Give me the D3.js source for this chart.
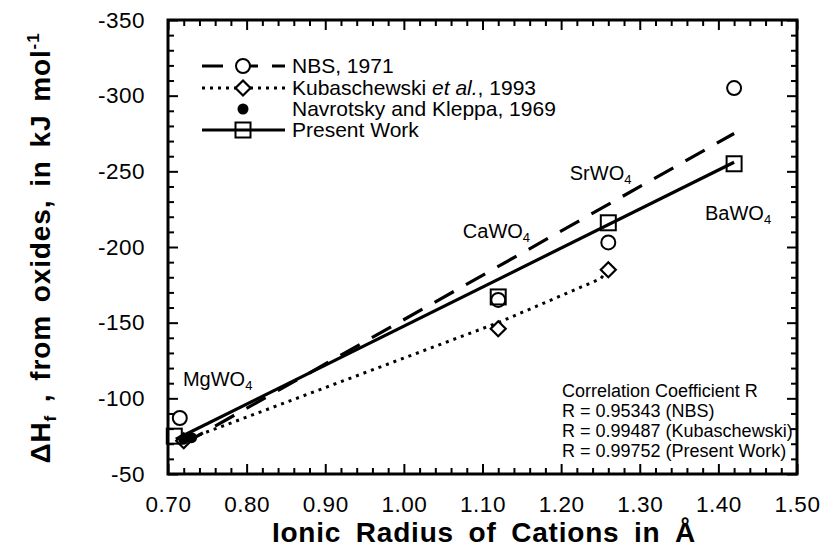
<!DOCTYPE html>
<html><head><meta charset="utf-8">
<script src="https://cdn.jsdelivr.net/npm/d3@7"></script>
<style>body{margin:0;background:#fff}svg{display:block}text{font-family:"Liberation Sans",Arial,Helvetica,sans-serif;fill:#000}</style>
</head><body><svg id="c" width="826" height="553"></svg>
<script>
// ---- data ----
const xTicks = [0.70,0.80,0.90,1.00,1.10,1.20,1.30,1.40,1.50];
const yTicks = [-350,-300,-250,-200,-150,-100,-50];
const nbsX = [0.715,1.12,1.26,1.42];
const nbsY = [-87,-165,-203,-305];
const kubX = [0.72,1.12,1.26];
const kubY = [-72,-146,-185];
const navX = [0.72,0.73];
const navY = [-73,-74];
const presX = [0.708,1.12,1.26,1.42];
const presY = [-75,-167,-216,-255];
// fitted / connecting lines
const nbsLineX = [0.72,1.42];
const nbsLineY = [-70,-275];
const kubLineX = [0.72,1.12,1.25,1.26];
const kubLineY = [-72,-150,-179,-185];
const presLineX = [0.71,1.42];
const presLineY = [-73,-256];
const compounds = ["MgWO","CaWO","SrWO","BaWO"];
const compX = [0.719,1.075,1.211,1.383];   // label anchor (data coords)
const compY = [-108,-206,-244,-218];
const legendLabels = ["NBS, 1971","Kubaschewski ","Navrotsky and Kleppa, 1969","Present Work"];
const corrLines = ["Correlation Coefficient R","R = 0.95343 (NBS)","R = 0.99487 (Kubaschewski)","R = 0.99752 (Present Work)"];

// ---- layout ----
const svg = d3.select("#c");
const L=168,R=797,T=20,B=474;
const x = d3.scaleLinear().domain([0.70,1.50]).range([L,R]);
const y = d3.scaleLinear().domain([-50,-350]).range([B,T]);
const zip=(a,b)=>a.map((v,i)=>[v,b[i]]);
const line = d3.line().x(d=>x(d[0])).y(d=>y(d[1]));

const xMinor = d3.range(0.70,1.5001,0.02).filter(v=>Math.abs(Math.round(v*10)-v*10)>1e-6);
const yMinor = d3.range(-350,-49,10).filter(v=>v%50!==0);

function ax(gen, tr, ticks, size, labels){
  const g = svg.append("g").attr("transform",tr).call(gen.tickValues(ticks).tickSize(size).tickSizeOuter(0));
  g.select(".domain").remove();
  g.selectAll(".tick line").attr("stroke","#000").attr("stroke-width",2);
  if(!labels) g.selectAll(".tick text").remove();
  else g.selectAll(".tick text").style("font-size","22.5px").style("letter-spacing","0.5px").style("font-family",'"Liberation Sans",Arial,sans-serif');
  return g;
}
ax(d3.axisBottom(x).tickFormat(d3.format(".2f")).tickPadding(22),`translate(0,${B})`,xTicks,-10,true);
ax(d3.axisBottom(x),`translate(0,${B})`,xMinor,-6,false);
ax(d3.axisTop(x),`translate(0,${T})`,xTicks,-10,false);
ax(d3.axisTop(x),`translate(0,${T})`,xMinor,-6,false);
ax(d3.axisLeft(y).tickFormat(d=>String(d)).tickPadding(23),`translate(${L},0)`,yTicks,-10,true);
ax(d3.axisLeft(y),`translate(${L},0)`,yMinor,-6,false);
ax(d3.axisRight(y),`translate(${R},0)`,yTicks,-10,false);
ax(d3.axisRight(y),`translate(${R},0)`,yMinor,-6,false);

svg.append("rect").attr("x",L).attr("y",T).attr("width",R-L).attr("height",B-T)
  .attr("fill","none").attr("stroke","#000").attr("stroke-width",3);

// lines
svg.append("path").datum(zip(nbsLineX,nbsLineY)).attr("d",line).attr("fill","none")
  .attr("stroke","#000").attr("stroke-width",3.2).attr("stroke-dasharray","22,14");
svg.append("path").datum(zip(kubLineX,kubLineY)).attr("d",line).attr("fill","none")
  .attr("stroke","#000").attr("stroke-width",3).attr("stroke-dasharray","3,5");
svg.append("path").datum(zip(presLineX,presLineY)).attr("d",line).attr("fill","none")
  .attr("stroke","#000").attr("stroke-width",3.2);

// markers
function circ(g,cx,cy){g.append("circle").attr("cx",cx).attr("cy",cy).attr("r",7).attr("fill","#fff").attr("stroke","#000").attr("stroke-width",2);}
function sq(g,cx,cy){g.append("rect").attr("x",cx-7.5).attr("y",cy-7.5).attr("width",15).attr("height",15).attr("fill","none").attr("stroke","#000").attr("stroke-width",2);}
function dia(g,cx,cy){g.append("path").attr("d",`M${cx},${cy-7.5}L${cx+7.5},${cy}L${cx},${cy+7.5}L${cx-7.5},${cy}Z`).attr("fill","#fff").attr("stroke","#000").attr("stroke-width",2.2);}
function dot(g,cx,cy){g.append("circle").attr("cx",cx).attr("cy",cy).attr("r",5.5).attr("fill","#000");}
const mg = svg.append("g");
nbsX.forEach((v,i)=>circ(mg,x(v),y(nbsY[i])));
kubX.forEach((v,i)=>dia(mg,x(v),y(kubY[i])));
presX.forEach((v,i)=>sq(mg,x(v),y(presY[i])));
navX.forEach((v,i)=>dot(mg,x(v),y(navY[i])));

// compound labels
compounds.forEach((c,i)=>{
  const t = svg.append("text").attr("x",x(compX[i])).attr("y",y(compY[i]))
    .style("font-size","20px");
  t.append("tspan").text(c);
  t.append("tspan").attr("dy",4).style("font-size","13px").text("4");
});

// legend
const lg = svg.append("g");
const lx0=202,lx1=285,lsx=243,tx=292, ly=[66,88,109,130];
lg.append("line").attr("x1",lx0).attr("x2",lx1).attr("y1",ly[0]).attr("y2",ly[0]).attr("stroke","#000").attr("stroke-width",3).attr("stroke-dasharray","21,14");
circ(lg,lsx,ly[0]);
lg.append("line").attr("x1",lx0).attr("x2",lx1).attr("y1",ly[1]).attr("y2",ly[1]).attr("stroke","#000").attr("stroke-width",3).attr("stroke-dasharray","3,5");
dia(lg,lsx,ly[1]);
dot(lg,lsx,ly[2]);
lg.append("line").attr("x1",lx0).attr("x2",lx1).attr("y1",ly[3]).attr("y2",ly[3]).attr("stroke","#000").attr("stroke-width",3);
sq(lg,lsx,ly[3]);
legendLabels.forEach((s,i)=>{
  const t = lg.append("text").attr("x",tx).attr("y",ly[i]+7).style("font-size","21px");
  t.append("tspan").text(s);
  if(i===1){ t.append("tspan").style("font-style","italic").text("et al."); t.append("tspan").text(", 1993"); }
});

// correlation text
corrLines.forEach((s,i)=>{
  svg.append("text").attr("x",562).attr("y",397+i*20).style("font-size","18px").text(s);
});

// axis titles
svg.append("text").attr("x",484).attr("y",542).attr("text-anchor","middle")
  .style("font-size","28px").style("font-weight","bold").style("letter-spacing","0.8px").style("word-spacing","6px")
  .text("Ionic Radius of Cations in Å");
const yt = svg.append("text").attr("transform","translate(50,248) rotate(-90)").attr("text-anchor","middle")
  .style("font-size","28px").style("font-weight","bold").style("letter-spacing","0.9px").style("word-spacing","4px");
yt.append("tspan").text("ΔH");
yt.append("tspan").attr("dy",6).style("font-size","17px").text("f");
yt.append("tspan").attr("dy",-6).text(" , from oxides, in kJ mol");
yt.append("tspan").attr("dy",-11).style("font-size","17px").text("-1");
</script></body></html>
